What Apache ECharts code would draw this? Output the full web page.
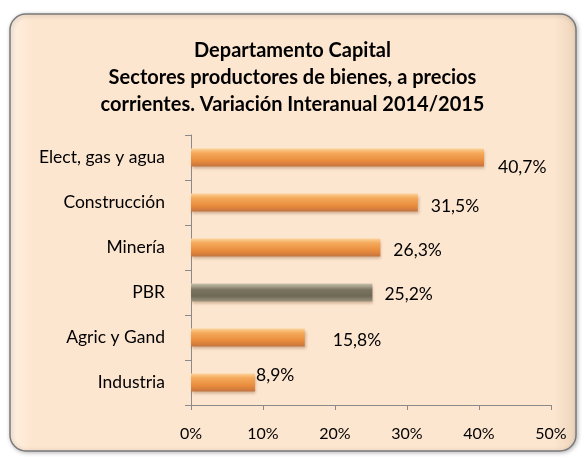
<!DOCTYPE html>
<html>
<head>
<meta charset="utf-8">
<script src="https://cdn.jsdelivr.net/npm/echarts@6/dist/echarts.min.js"></script>
<style>
  html, body { margin: 0; padding: 0; background: #fff; }
  #main { width: 585px; height: 459px; }
</style>
</head>
<body>
<div id="main"></div>
<script>
var categories = ['Elect, gas y agua', 'Construcción', 'Minería', 'PBR', 'Agric y Gand', 'Industria'];
var values = [40.7, 31.5, 26.3, 25.2, 15.8, 8.9];
var xTicks = [0, 10, 20, 30, 40, 50];
// label offsets as placed by hand in the original
var labelOffsets = [[14, 10], [13, 4], [13, 3], [12, 2], [28, 3], [1, -7]];

window.onload = function () {
    var myChart = echarts.init(document.getElementById('main'));

    var orange = new echarts.graphic.LinearGradient(0, 0, 0, 1, [
        {offset: 0, color: '#fcd39a'},
        {offset: 0.25, color: '#f5a95a'},
        {offset: 0.7, color: '#e88a3c'},
        {offset: 1, color: '#c47440'}
    ]);
    var grey = new echarts.graphic.LinearGradient(0, 0, 0, 1, [
        {offset: 0, color: '#c9c3ad'},
        {offset: 0.35, color: '#797360'},
        {offset: 0.7, color: '#6e6856'},
        {offset: 1, color: '#9a9480'}
    ]);

    var data = values.map(function (v, i) {
        return {
            value: v,
            itemStyle: {color: categories[i] === 'PBR' ? grey : orange},
            label: {offset: labelOffsets[i]}
        };
    });

    var option = {
        backgroundColor: '#ffffff',
        textStyle: {fontFamily: 'Lato'},
        graphic: [{
            type: 'rect',
            z: -10,
            shape: {x: 10, y: 14, width: 566, height: 437, r: 16},
            style: {
                fill: new echarts.graphic.LinearGradient(0, 0, 1, 0, [
                    {offset: 0, color: '#fff1e2'},
                    {offset: 0.04, color: '#fde6d0'},
                    {offset: 0.96, color: '#fde6d0'},
                    {offset: 1, color: '#ecd3bb'}
                ]),
                stroke: '#7a7a7a',
                lineWidth: 1.5,
                shadowColor: 'rgba(0,0,0,0.25)',
                shadowBlur: 4,
                shadowOffsetX: 1,
                shadowOffsetY: 1
            }
        }],
        title: {
            text: 'Departamento Capital\nSectores productores de bienes, a precios\ncorrientes. Variación Interanual 2014/2015',
            left: 'center',
            top: 32,
            textStyle: {
                fontFamily: 'Lato',
                fontSize: 20,
                fontWeight: 'bold',
                color: '#000',
                lineHeight: 27
            }
        },
        grid: {left: 191, right: 34, top: 135, bottom: 54},
        xAxis: {
            type: 'value',
            min: 0,
            max: 50,
            interval: 10,
            splitLine: {show: false},
            axisLine: {show: true, lineStyle: {color: '#8a8a8a'}},
            axisTick: {show: true, length: 5, lineStyle: {color: '#8a8a8a'}},
            axisLabel: {
                margin: 21,
                fontSize: 16,
                color: '#000',
                formatter: function (v) { return xTicks.indexOf(v) >= 0 ? v + '%' : ''; }
            }
        },
        yAxis: {
            type: 'category',
            inverse: true,
            data: categories,
            axisLine: {show: true, lineStyle: {color: '#8a8a8a'}},
            axisTick: {show: true, length: 6, lineStyle: {color: '#8a8a8a'}},
            axisLabel: {margin: 26, fontSize: 17.5, color: '#000'}
        },
        series: [{
            type: 'bar',
            barWidth: 18,
            data: data,
            itemStyle: {
                shadowColor: 'rgba(120,70,30,0.35)',
                shadowBlur: 3,
                shadowOffsetX: 1,
                shadowOffsetY: 2
            },
            label: {
                show: true,
                position: 'right',
                distance: 0,
                fontSize: 17.5,
                color: '#000',
                formatter: function (p) { return p.value.toFixed(1).replace('.', ',') + '%'; }
            }
        }]
    };
    myChart.setOption(option);
};
</script>
</body>
</html>
